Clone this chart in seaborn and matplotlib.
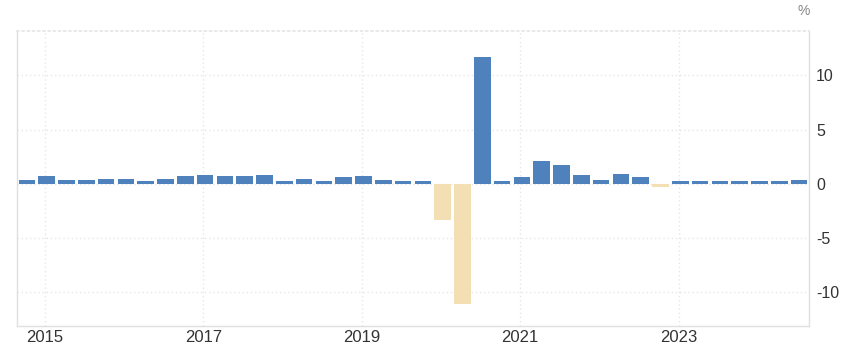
import numpy as np
import pandas as pd
import matplotlib
matplotlib.use("Agg")
import matplotlib.pyplot as plt
import seaborn as sns

# Quarterly growth, Q4 2014 .. Q3 2024
years = [2014] + [y for y in range(2015, 2024) for _ in range(4)] + [2024] * 3
quarters = [4] + [q for _ in range(2015, 2024) for q in (1, 2, 3, 4)] + [1, 2, 3]
values = [0.34,
          0.70, 0.34, 0.34, 0.43,
          0.43, 0.24, 0.43, 0.70,
          0.80, 0.70, 0.70, 0.80,
          0.24, 0.43, 0.24, 0.61,
          0.70, 0.34, 0.24, 0.24,
          -3.34, -11.1, 11.7, 0.31,
          0.61, 2.14, 1.78, 0.80,
          0.40, 0.89, 0.61, -0.30,
          0.24, 0.24, 0.24, 0.24,
          0.24, 0.24, 0.34]
year_ticks = [2015, 2017, 2019, 2021, 2023]
y_ticks = [-10, -5, 0, 5, 10]

df = pd.DataFrame({"year": years, "quarter": quarters, "value": values})
df["t"] = df["year"] + (df["quarter"] - 1) * 0.25 + 0.02
df["sign"] = np.where(df["value"] >= 0, "pos", "neg")

sns.set_theme(style="white")
plt.rcParams["font.family"] = ["Liberation Sans", "DejaVu Sans"]

fig = plt.figure(figsize=(8.41, 3.49), dpi=100)
ax = fig.add_axes([17 / 841, 23 / 349, (809 - 17) / 841, (326 - 31) / 349])

sns.barplot(data=df, x="t", y="value", hue="sign", native_scale=True,
            palette={"pos": "#4f81bd", "neg": "#f4deb4"}, dodge=False,
            saturation=1, width=0.84, legend=False, ax=ax, zorder=3,
            errorbar=None, linewidth=0)

ax.set_xlim(2014.646, 2024.646)
ax.set_ylim(-13.1, 14.1)
ax.set_xticks(year_ticks)
ax.set_xticklabels([str(y) for y in year_ticks])
ax.set_yticks(y_ticks)
ax.set_yticklabels([str(v) for v in y_ticks])
ax.yaxis.tick_right()
ax.set_xlabel("")
ax.set_ylabel("")

ax.grid(True, axis="both", color="#e6e6e6", linestyle=(0, (1, 2)), linewidth=1, zorder=0)
ax.set_axisbelow(True)

ax.tick_params(axis="x", length=0, pad=3, labelsize=12, labelcolor="#333333")
ax.tick_params(axis="y", length=0, pad=5, labelsize=11.5, labelcolor="#333333")

for side in ["left", "right", "bottom"]:
    ax.spines[side].set_color("#e0e0e0")
    ax.spines[side].set_linewidth(1)
ax.spines["top"].set_color("#e6e6e6")
ax.spines["top"].set_linestyle((0, (1, 2)))

fig.text(797 / 841, 1 - 11 / 349, "%", ha="left", va="center", fontsize=10, color="#888888")

fig.savefig("out.png", dpi=100)
